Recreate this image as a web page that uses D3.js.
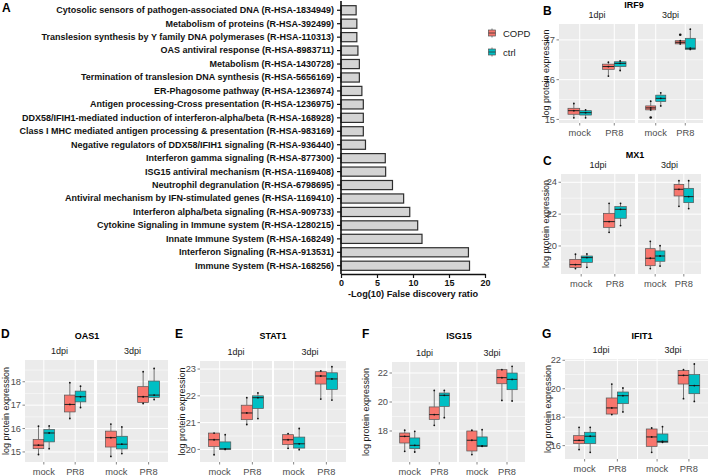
<!DOCTYPE html>
<html>
<head>
<meta charset="utf-8">
<script src="https://cdn.jsdelivr.net/npm/d3@7"></script>
<style>
  body { margin: 0; background: #fff; }
  svg { font-family: "Liberation Sans", Arial, sans-serif; }
</style>
</head>
<body>
<svg width="708" height="476"></svg>
<script>
// ---- panel A: pathway enrichment
const pathways = [
  "Cytosolic sensors of pathogen-associated DNA (R-HSA-1834949)",
  "Metabolism of proteins (R-HSA-392499)",
  "Translesion synthesis by Y family DNA polymerases (R-HSA-110313)",
  "OAS antiviral response (R-HSA-8983711)",
  "Metabolism (R-HSA-1430728)",
  "Termination of translesion DNA synthesis (R-HSA-5656169)",
  "ER-Phagosome pathway (R-HSA-1236974)",
  "Antigen processing-Cross presentation (R-HSA-1236975)",
  "DDX58/IFIH1-mediated induction of interferon-alpha/beta (R-HSA-168928)",
  "Class I MHC mediated antigen processing & presentation (R-HSA-983169)",
  "Negative regulators of DDX58/IFIH1 signaling (R-HSA-936440)",
  "Interferon gamma signaling (R-HSA-877300)",
  "ISG15 antiviral mechanism (R-HSA-1169408)",
  "Neutrophil degranulation (R-HSA-6798695)",
  "Antiviral mechanism by IFN-stimulated genes (R-HSA-1169410)",
  "Interferon alpha/beta signaling (R-HSA-909733)",
  "Cytokine Signaling in Immune system (R-HSA-1280215)",
  "Innate Immune System (R-HSA-168249)",
  "Interferon Signaling (R-HSA-913531)",
  "Immune System (R-HSA-168256)"
];
const fdr = [2.1, 2.2, 2.2, 2.35, 2.55, 2.55, 2.9, 3.1, 3.1, 3.1, 3.4,
             6.15, 6.2, 7.15, 8.7, 9.55, 10.65, 11.25, 17.7, 17.85];
const fdrTicks = [0, 5, 10, 15, 20];

// ---- panels B-G: boxplots
const days = ["1dpi", "3dpi"];
const treatments = ["mock", "PR8"];
const groups = ["COPD", "ctrl"];
const groupColors = ["#F8766D", "#00BFC4"];

// [day, treatment, group, min, q1, median, q3, max]
const irf9Stats = [
  ["1dpi","mock","COPD",15.04,15.13,15.22,15.28,15.40],
  ["1dpi","mock","ctrl",15.04,15.11,15.17,15.22,15.24],
  ["1dpi","PR8","COPD",16.09,16.26,16.33,16.39,16.44],
  ["1dpi","PR8","ctrl",16.23,16.33,16.41,16.45,16.47],
  ["3dpi","mock","COPD",15.24,15.24,15.29,15.34,15.46],
  ["3dpi","mock","ctrl",15.34,15.45,15.53,15.61,15.67],
  ["3dpi","PR8","COPD",16.90,16.90,16.94,16.98,16.98],
  ["3dpi","PR8","ctrl",16.76,16.76,16.79,17.04,17.27]
];
const irf9Outliers = [["3dpi","mock","COPD",15.05], ["3dpi","PR8","COPD",17.13]];
const irf9Ticks = [15, 16, 17];

const mx1Stats = [
  ["1dpi","mock","COPD",18.58,18.64,18.83,19.16,19.48],
  ["1dpi","mock","ctrl",18.66,18.97,19.27,19.37,19.50],
  ["1dpi","PR8","COPD",20.86,21.17,21.53,22.05,22.68],
  ["1dpi","PR8","ctrl",21.28,21.74,22.30,22.47,22.68],
  ["3dpi","mock","COPD",18.58,18.76,19.23,19.83,20.29],
  ["3dpi","mock","ctrl",18.74,19.04,19.37,19.69,20.02],
  ["3dpi","PR8","COPD",22.49,23.14,23.56,23.87,24.10],
  ["3dpi","PR8","ctrl",22.35,22.72,23.10,23.62,24.10]
];
const mx1Ticks = [20, 22, 24];

const oas1Stats = [
  ["1dpi","mock","COPD",14.89,15.14,15.29,15.53,16.10],
  ["1dpi","mock","ctrl",15.14,15.43,15.81,15.96,16.11],
  ["1dpi","PR8","COPD",16.43,16.71,17.03,17.43,17.96],
  ["1dpi","PR8","ctrl",16.90,17.14,17.36,17.60,17.81],
  ["3dpi","mock","COPD",14.81,15.21,15.61,15.89,16.19],
  ["3dpi","mock","ctrl",14.93,15.13,15.33,15.67,16.07],
  ["3dpi","PR8","COPD",17.07,17.11,17.36,17.79,18.43],
  ["3dpi","PR8","ctrl",17.24,17.33,17.43,18.03,18.57]
];
const oas1Ticks = [15, 16, 17, 18];

const stat1Stats = [
  ["1dpi","mock","COPD",19.80,20.11,20.36,20.61,20.61],
  ["1dpi","mock","ctrl",20.00,20.00,20.02,20.28,20.55],
  ["1dpi","PR8","COPD",20.93,21.11,21.36,21.65,21.93],
  ["1dpi","PR8","ctrl",21.15,21.53,21.93,22.00,22.11],
  ["3dpi","mock","COPD",20.04,20.18,20.36,20.55,20.59],
  ["3dpi","mock","ctrl",19.99,20.05,20.21,20.46,20.78],
  ["3dpi","PR8","COPD",21.88,22.44,22.74,22.90,22.93],
  ["3dpi","PR8","ctrl",21.84,22.24,22.63,22.86,23.09]
];
const stat1Ticks = [20, 21, 22, 23];

const isg15Stats = [
  ["1dpi","mock","COPD",16.60,17.17,17.63,17.86,18.05],
  ["1dpi","mock","ctrl",16.55,16.78,17.01,17.52,17.98],
  ["1dpi","PR8","COPD",18.39,18.80,19.13,19.66,20.80],
  ["1dpi","PR8","ctrl",18.92,19.70,20.46,20.62,20.80],
  ["3dpi","mock","COPD",16.37,16.62,17.36,18.00,18.05],
  ["3dpi","mock","ctrl",16.94,16.94,16.97,17.59,18.09],
  ["3dpi","PR8","COPD",20.11,21.26,21.68,22.23,22.23],
  ["3dpi","PR8","ctrl",20.07,20.85,21.56,22.00,22.46]
];
const isg15Ticks = [18, 20, 22];

const ifit1Stats = [
  ["1dpi","mock","COPD",15.72,16.14,16.37,16.70,17.29],
  ["1dpi","mock","ctrl",15.53,16.14,16.66,16.94,17.29],
  ["1dpi","PR8","COPD",18.18,18.22,18.65,19.35,20.33],
  ["1dpi","PR8","ctrl",18.37,18.95,19.51,19.77,20.05],
  ["3dpi","mock","COPD",15.53,15.95,16.61,17.17,17.24],
  ["3dpi","mock","ctrl",16.23,16.23,16.30,16.82,17.33],
  ["3dpi","PR8","COPD",19.30,20.33,20.94,21.29,21.34],
  ["3dpi","PR8","ctrl",19.11,19.65,20.22,20.99,21.74]
];
const ifit1Ticks = [16, 18, 20, 22];

const svg = d3.select("svg");

// ================= panel A =================
const xA = d3.scaleLinear().domain([0, 20]).range([341, 485]);
const yA = d3.scaleBand().domain(pathways).range([3, 273])
  .paddingInner(0.32).paddingOuter(0.2);

const gA = svg.append("g");
gA.selectAll("rect.bar")
  .data(pathways)
  .join("rect")
    .attr("class", "bar")
    .attr("x", xA(0))
    .attr("y", d => yA(d))
    .attr("width", (d, i) => xA(fdr[i]) - xA(0))
    .attr("height", yA.bandwidth())
    .attr("fill", "#d4d4d4")
    .attr("stroke", "#2e2e2e")
    .attr("stroke-width", 1.2);

const axA_y = gA.append("g")
  .attr("transform", `translate(${xA(0)},0)`)
  .call(d3.axisLeft(yA).tickSize(4).tickSizeOuter(0).tickPadding(3));
const axA_x = gA.append("g")
  .attr("transform", "translate(0,274)")
  .call(d3.axisBottom(xA).tickValues(fdrTicks).tickSize(4).tickSizeOuter(0).tickPadding(2));
[axA_y, axA_x].forEach(ax => {
  ax.select(".domain").attr("stroke", "#111").attr("stroke-width", 1.6);
  ax.selectAll(".tick line").attr("stroke", "#111").attr("stroke-width", 1.2);
  ax.selectAll(".tick text")
    .attr("fill", "#111")
    .style("font-size", "9px")
    .style("font-weight", "bold")
    .style("font-family", "'Liberation Sans', Arial, sans-serif");
});
axA_y.select(".domain").attr("d", "M0,1V274");

gA.append("text")
  .attr("x", 413).attr("y", 297)
  .attr("text-anchor", "middle")
  .style("font-size", "9.2px").style("font-weight", "bold")
  .attr("fill", "#111")
  .text("-Log(10) False discovery ratio");

gA.append("text").attr("x", 2).attr("y", 12)
  .style("font-size", "12px").style("font-weight", "bold").text("A");

// ================= legend =================
const legend = svg.append("g");
groups.forEach((grp, i) => {
  const cy = 33 + i * 19;
  legend.append("line").attr("x1", 492).attr("x2", 492)
    .attr("y1", cy - 4.5).attr("y2", cy + 4.5).attr("stroke", "#555").attr("stroke-width", 0.8);
  legend.append("rect").attr("x", 488.5).attr("y", cy - 3).attr("width", 7).attr("height", 6)
    .attr("fill", groupColors[i]).attr("stroke", "#555").attr("stroke-width", 0.7);
  legend.append("line").attr("x1", 488.5).attr("x2", 495.5)
    .attr("y1", cy).attr("y2", cy).attr("stroke", "#333").attr("stroke-width", 0.8);
  legend.append("text").attr("x", 503).attr("y", cy + 3.5)
    .style("font-size", "9.5px").attr("fill", "#1a1a1a").text(grp);
});

// ================= boxplot panels =================
function boxPanel(o) {
  const g = svg.append("g");
  const y = d3.scaleLinear().domain(o.domain).range([o.bottom, o.top]);
  const step = o.ticks[1] - o.ticks[0];
  const minors = d3.range(o.ticks[0] - step / 2, o.ticks[o.ticks.length - 1] + step, step)
    .filter(v => v > o.domain[0] && v < o.domain[1]);

  days.forEach((day, i) => {
    const [x0, x1] = o.facets[i];
    const x = d3.scalePoint().domain(treatments).range([x0, x1]).padding(0.6);
    const half = x.step() * 0.34;
    const xg = d3.scaleBand().domain(groups).range([-half, half]);

    g.append("rect").attr("x", x0).attr("y", o.top)
      .attr("width", x1 - x0).attr("height", o.bottom - o.top).attr("fill", "#EBEBEB");

    g.selectAll(null).data(minors).join("line")
      .attr("x1", x0).attr("x2", x1).attr("y1", d => y(d)).attr("y2", d => y(d))
      .attr("stroke", "#fff").attr("stroke-width", 0.5);
    g.selectAll(null).data(o.ticks).join("line")
      .attr("x1", x0).attr("x2", x1).attr("y1", d => y(d)).attr("y2", d => y(d))
      .attr("stroke", "#fff").attr("stroke-width", 1);
    g.selectAll(null).data(treatments).join("line")
      .attr("x1", d => x(d)).attr("x2", d => x(d)).attr("y1", o.top).attr("y2", o.bottom)
      .attr("stroke", "#fff").attr("stroke-width", 1);

    // x ticks + labels
    g.selectAll(null).data(treatments).join("line")
      .attr("x1", d => x(d)).attr("x2", d => x(d)).attr("y1", o.bottom).attr("y2", o.bottom + 2.5)
      .attr("stroke", "#333").attr("stroke-width", 0.6);
    g.selectAll(null).data(treatments).join("text")
      .attr("x", d => x(d)).attr("y", o.bottom + 12.5)
      .attr("text-anchor", "middle").style("font-size", "9.3px").attr("fill", "#4d4d4d")
      .text(d => d);

    // facet strip label
    g.append("text").attr("x", (x0 + x1) / 2).attr("y", o.top - 6)
      .attr("text-anchor", "middle").style("font-size", "9px").attr("fill", "#1a1a1a").text(day);

    const rows = o.stats.filter(r => r[0] === day);
    rows.forEach(r => {
      const cx = x(r[1]) + xg(r[2]) + xg.bandwidth() / 2;
      const bw = xg.bandwidth();
      const col = groupColors[groups.indexOf(r[2])];
      const [, , , lo, q1, md, q3, hi] = r;
      g.append("line").attr("x1", cx).attr("x2", cx).attr("y1", y(hi)).attr("y2", y(q3))
        .attr("stroke", "#444").attr("stroke-width", 0.7);
      g.append("line").attr("x1", cx).attr("x2", cx).attr("y1", y(q1)).attr("y2", y(lo))
        .attr("stroke", "#444").attr("stroke-width", 0.7);
      g.append("rect").attr("x", cx - bw / 2).attr("y", y(q3))
        .attr("width", bw).attr("height", Math.max(1, y(q1) - y(q3)))
        .attr("fill", col).attr("stroke", "#555").attr("stroke-width", 0.7);
      g.append("line").attr("x1", cx - bw / 2).attr("x2", cx + bw / 2).attr("y1", y(md)).attr("y2", y(md))
        .attr("stroke", "#222").attr("stroke-width", 1);
      [lo, md, hi].forEach(v => {
        g.append("circle").attr("cx", cx).attr("cy", y(v)).attr("r", 0.9).attr("fill", "#111");
      });
    });
    (o.outliers || []).filter(r => r[0] === day).forEach(r => {
      const cx = x(r[1]) + xg(r[2]) + xg.bandwidth() / 2;
      g.append("circle").attr("cx", cx).attr("cy", y(r[3])).attr("r", 1.3).attr("fill", "#111");
    });
  });

  // y axis ticks/labels
  const left = o.facets[0][0];
  g.selectAll(null).data(o.ticks).join("line")
    .attr("x1", left - 2.5).attr("x2", left).attr("y1", d => y(d)).attr("y2", d => y(d))
    .attr("stroke", "#333").attr("stroke-width", 0.6);
  g.selectAll(null).data(o.ticks).join("text")
    .attr("x", left - 4).attr("y", d => y(d) + 3.2)
    .attr("text-anchor", "end").style("font-size", "9.3px").attr("fill", "#4d4d4d")
    .text(d => d);

  g.append("text")
    .attr("transform", `translate(${o.ylabX},${(o.top + o.bottom) / 2}) rotate(-90)`)
    .attr("text-anchor", "middle").attr("dy", "0.35em")
    .style("font-size", "9px").attr("fill", "#1a1a1a").text("log protein expression");

  g.append("text").attr("x", o.titleX).attr("y", o.titleY)
    .attr("text-anchor", "middle").style("font-size", "9px").style("font-weight", "bold")
    .text(o.title);
  g.append("text").attr("x", o.letterX).attr("y", o.letterY)
    .style("font-size", "12px").style("font-weight", "bold").text(o.letter);
}

boxPanel({ letter: "B", title: "IRF9", stats: irf9Stats, outliers: irf9Outliers, ticks: irf9Ticks,
  domain: [14.91, 17.4], facets: [[559, 635], [638, 703]], top: 24, bottom: 123,
  ylabX: 546, titleX: 634, titleY: 8, letterX: 543, letterY: 15 });
boxPanel({ letter: "C", title: "MX1", stats: mx1Stats, ticks: mx1Ticks,
  domain: [18.24, 24.52], facets: [[561, 635], [638, 701]], top: 174, bottom: 274,
  ylabX: 546, titleX: 635, titleY: 158, letterX: 543, letterY: 165 });
boxPanel({ letter: "D", title: "OAS1", stats: oas1Stats, ticks: oas1Ticks,
  domain: [14.57, 18.93], facets: [[25, 94], [97, 168]], top: 360, bottom: 462,
  ylabX: 6, titleX: 87, titleY: 339, letterX: 1, letterY: 338 });
boxPanel({ letter: "E", title: "STAT1", stats: stat1Stats, ticks: stat1Ticks,
  domain: [19.53, 23.3], facets: [[200, 272], [274, 346]], top: 361, bottom: 462,
  ylabX: 182, titleX: 273, titleY: 339, letterX: 175, letterY: 338 });
boxPanel({ letter: "F", title: "ISG15", stats: isg15Stats, ticks: isg15Ticks,
  domain: [15.86, 22.76], facets: [[392, 457], [459, 525]], top: 362, bottom: 462,
  ylabX: 366, titleX: 459, titleY: 339, letterX: 362, letterY: 338 });
boxPanel({ letter: "G", title: "IFIT1", stats: ifit1Stats, ticks: ifit1Ticks,
  domain: [15.06, 22.09], facets: [[565, 637], [638, 708]], top: 359, bottom: 459,
  ylabX: 548, titleX: 642, titleY: 339, letterX: 542, letterY: 338 });
</script>
</body>
</html>
